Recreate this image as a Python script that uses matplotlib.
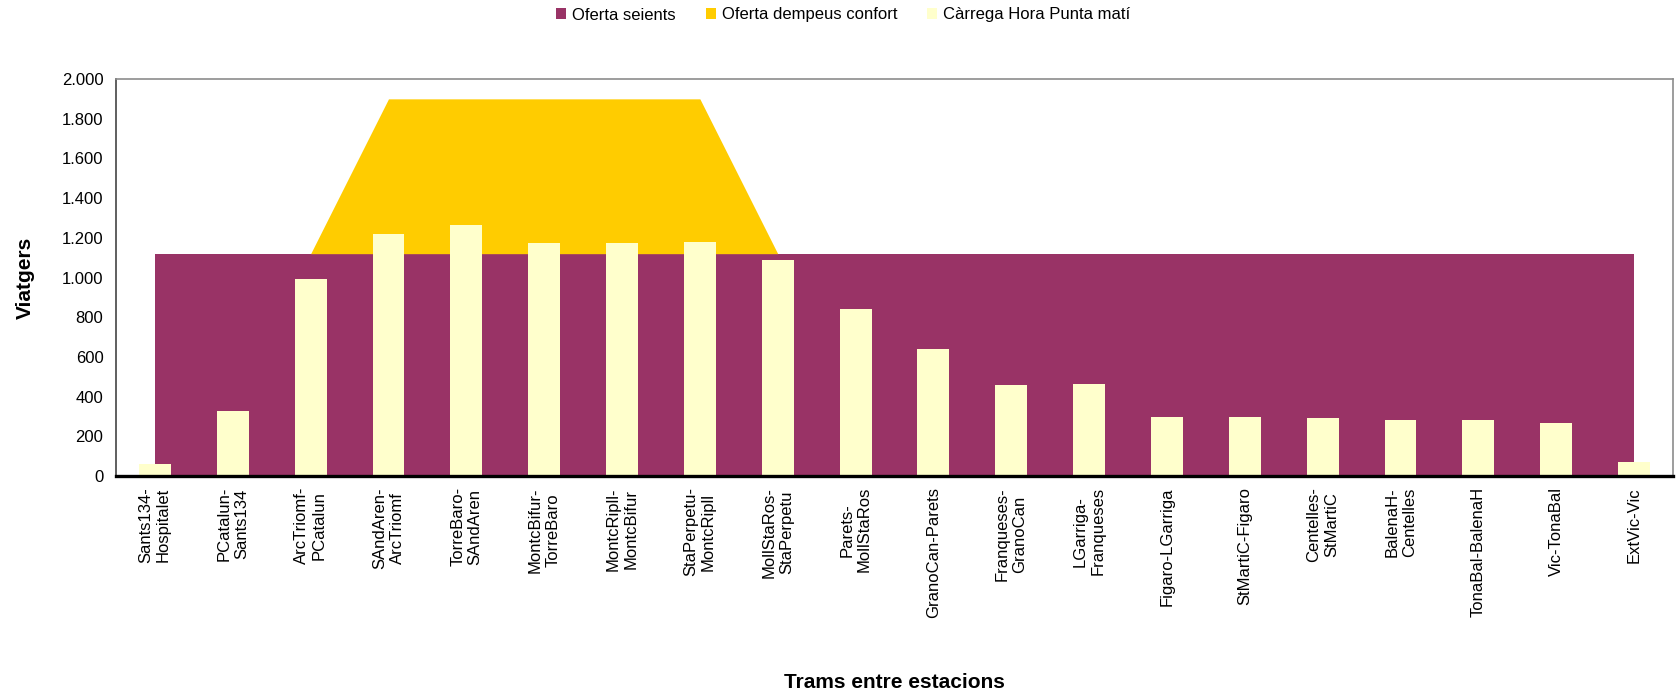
import matplotlib
matplotlib.use('Agg')
import matplotlib.pyplot as plt
from matplotlib.patches import Patch
from matplotlib.ticker import FuncFormatter, MultipleLocator
import numpy as np

# data
trams = ['Sants134-\nHospitalet', 'PCatalun-\nSants134', 'ArcTriomf-\nPCatalun',
         'SAndAren-\nArcTriomf', 'TorreBaro-\nSAndAren', 'MontcBifur-\nTorreBaro',
         'MontcRipll-\nMontcBifur', 'StaPerpetu-\nMontcRipll', 'MollStaRos-\nStaPerpetu',
         'Parets-\nMollStaRos', 'GranoCan-Parets', 'Franqueses-\nGranoCan',
         'LGarriga-\nFranqueses', 'Figaro-LGarriga', 'StMartiC-Figaro',
         'Centelles-\nStMartiC', 'BalenaH-\nCentelles', 'TonaBal-BalenaH',
         'Vic-TonaBal', 'ExtVic-Vic']
oferta_seients = [1120] * 20
oferta_dempeus = [0, 0, 0, 780, 780, 780, 780, 780, 0, 0,
                  0, 0, 0, 0, 0, 0, 0, 0, 0, 0]
carrega_hp = [60, 328, 993, 1220, 1265, 1174, 1174, 1179, 1088, 842,
              641, 459, 464, 298, 298, 292, 283, 283, 268, 69]

# colours (classic excel palette)
c_seients = '#993366'
c_dempeus = '#FFCC00'
c_carrega = '#FFFFCC'

plt.rcParams['font.family'] = ['Liberation Sans', 'DejaVu Sans']

fig = plt.figure(figsize=(16.78, 6.96), dpi=100)
ax = fig.add_axes([116 / 1678, 1 - 476 / 696, (1673 - 116) / 1678, (476 - 79) / 696])

x = np.arange(len(trams)) + 0.5
seients = np.array(oferta_seients)
total = seients + np.array(oferta_dempeus)

ax.fill_between(x, 0, seients, color=c_seients, linewidth=0, zorder=1)
ax.fill_between(x, seients, total, color=c_dempeus, linewidth=0, zorder=1)
ax.bar(x, carrega_hp, width=0.41, color=c_carrega, linewidth=0, zorder=2)

ax.set_xlim(0, len(trams))
ax.set_ylim(0, 2000)
ax.yaxis.set_major_locator(MultipleLocator(200))
ax.yaxis.set_major_formatter(FuncFormatter(lambda v, p: f'{int(v):,}'.replace(',', '.')))

ax.set_xticks(x)
ax.set_xticklabels(trams, rotation=90, ha='center', va='top', fontsize=12)
ax.tick_params(axis='x', length=0, pad=8)
ax.tick_params(axis='y', length=0, pad=9, labelsize=12)

# spines
ax.spines['bottom'].set_linewidth(2.4)
ax.spines['bottom'].set_color('black')
ax.spines['left'].set_linewidth(1.2)
ax.spines['left'].set_color('#444444')
for k in ['top', 'right']:
    ax.spines[k].set_linewidth(1.2)
    ax.spines[k].set_color('#8c8c8c')
for s in ax.spines.values():
    s.set_zorder(5)

ax.set_ylabel('Viatgers', fontsize=15, fontweight='bold')
ax.yaxis.set_label_coords(-0.052, 0.5)
ax.set_xlabel('Trams entre estacions', fontsize=15, fontweight='bold')
ax.xaxis.set_label_coords(0.5, -(682 - 476) / 397)
ax.xaxis.label.set_va('center')

# legend
handles = [Patch(facecolor=c_seients, edgecolor='none'),
           Patch(facecolor=c_dempeus, edgecolor='none'),
           Patch(facecolor=c_carrega, edgecolor='none')]
labels = ['Oferta seients', 'Oferta dempeus confort', 'Càrrega Hora Punta matí']
fig.legend(handles, labels, loc='center', bbox_to_anchor=(0.5025, 1 - 15 / 696),
           ncol=3, frameon=False, fontsize=12, handlelength=0.6, handleheight=0.6,
           handletextpad=0.35, columnspacing=1.8)

plt.savefig('out.png', dpi=100)
